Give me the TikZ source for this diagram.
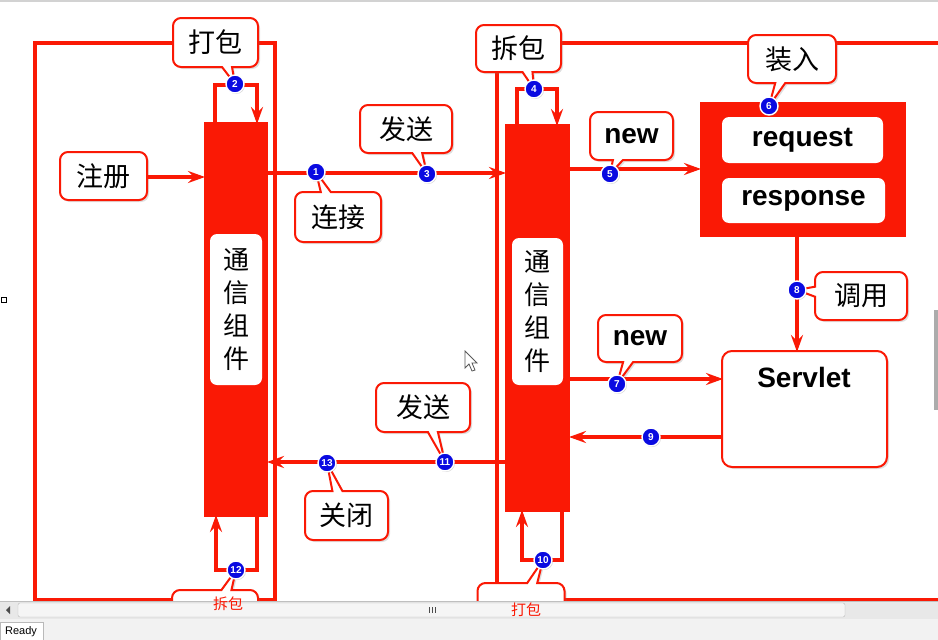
\documentclass[tikz,border=0pt]{standalone}
\usepackage{fontspec}
\setmainfont{Liberation Sans}
\newfontfamily\cjk{Noto Sans CJK SC}
\usetikzlibrary{shapes.callouts,arrows.meta,shadows}
\definecolor{myred}{RGB}{250,25,5}
\definecolor{myblue}{RGB}{10,10,225}
\tikzset{
  rline/.style={draw=myred,line width=3.2pt},
  rarr/.style={rline,-{Stealth[length=17pt,width=12pt,inset=6pt]}},
  softshadow/.style={drop shadow={opacity=0.25,shadow xshift=2pt,shadow yshift=-2pt}},
  plainbox/.style={rectangle,draw=myred,line width=2pt,fill=white,rounded corners=8pt,
     softshadow,font=\cjk\fontsize{27}{27}\selectfont,inner sep=0pt},
  callbox/.style={rectangle callout,draw=myred,line width=2pt,fill=white,rounded corners=8pt,
     softshadow,font=\cjk\fontsize{27}{27}\selectfont,inner sep=0pt,callout pointer width=10pt},
  latinbox/.style={callbox,font=\bfseries\fontsize{28}{28}\selectfont},
  num/.style={circle,fill=myblue,draw=white,line width=1.4pt,inner sep=0pt,minimum size=18pt,
     text=white,font=\bfseries\fontsize{10}{10}\selectfont,drop shadow={opacity=0.3,shadow xshift=1pt,shadow yshift=-1pt}},
  bar/.style={rectangle,fill=myred,inner sep=0pt},
  vlabel/.style={rectangle,fill=white,rounded corners=7pt,inner sep=0pt,align=center,
     font=\cjk\fontsize{26}{33}\selectfont},
  wbox/.style={rectangle,fill=white,rounded corners=7pt,inner sep=0pt,font=\bfseries\fontsize{28}{28}\selectfont},
  redann/.style={text=myred,font=\cjk\fontsize{15}{15}\selectfont,inner sep=0pt},
}
\begin{document}
\begin{tikzpicture}[x=1pt,y=-1pt]
\useasboundingbox (0,0) rectangle (938,640);
\fill[white] (0,0) rectangle (938,640);
\draw[gray!35,line width=1.5pt] (0,1) -- (938,1);

% coordinates of the numbered markers
\coordinate (c1) at (316,172);
\coordinate (c2) at (235,84);
\coordinate (c3) at (427,174);
\coordinate (c4) at (534,89);
\coordinate (c5) at (610,174);
\coordinate (c6) at (769,106);
\coordinate (c7) at (617,384);
\coordinate (c8) at (797,290);
\coordinate (c9) at (651,437);
\coordinate (c10) at (543,560);
\coordinate (c11) at (445,462);
\coordinate (c12) at (236,570);
\coordinate (c13) at (327,463);

% frames
\draw[rline] (35,43) rectangle (275,600);
\draw[rline] (940,43) -- (497,43) -- (497,600) -- (940,600);

% bars
\node[bar,minimum width=64pt,minimum height=395pt] (lbar) at (236,319.5) {};
\node[bar,minimum width=65pt,minimum height=388pt] (rbar) at (537.5,318) {};
\node[vlabel,minimum width=52pt,minimum height=151pt] (llab) at (236,309.5) {通\\信\\组\\件};
\node[vlabel,minimum width=51pt,minimum height=147pt] (rlab) at (537.5,311.5) {通\\信\\组\\件};

% request / response
\node[bar,minimum width=206pt,minimum height=135pt] (rr) at (803,169.5) {};
\node[wbox,minimum width=161pt,minimum height=46pt] (req) at (802.5,140) {request};
\node[wbox,minimum width=163pt,minimum height=45pt] (resp) at (803.5,200.5) {response};

% servlet
\node[rectangle,draw=myred,line width=2pt,fill=white,rounded corners=10pt,softshadow,
      minimum width=165pt,minimum height=116pt] (srv) at (804.5,409) {};
\node[font=\bfseries\fontsize{28}{28}\selectfont,inner sep=0pt] (srvt) at (804,377) {Servlet};

% loops
\draw[rarr] (215,122) -- (215,85) -- (257,85) -- (257,124);
\draw[rarr] (517,124) -- (517,89) -- (557,89) -- (557,126);
\draw[rarr] (257,517) -- (257,570) -- (216,570) -- (216,515);
\draw[rarr] (562,512) -- (562,560) -- (522,560) -- (522,510);

% register
\node[plainbox,minimum width=87pt,minimum height=48pt] (reg) at (103.5,176) {注册};
\draw[rarr] (reg.east |- 0,177) -- (205,177);

% connectors
\draw[rarr] (268,173) -- (506,173);
\draw[rarr] (570,169) -- (701,169);
\draw[rarr] (rr.south -| 797,0) -- (797,352);
\draw[rarr] (570,379) -- (723,379);
\draw[rarr] (722,437) -- (569,437);
\draw[rarr] (505,462) -- (267,462);

% callouts
\node[callbox,minimum width=85pt,minimum height=49pt,callout absolute pointer={(c2)}] (k2) at (215.5,42.5) {打包};
\node[callbox,minimum width=86pt,minimum height=50pt,callout absolute pointer={(c1)}] (k1) at (338,217) {连接};
\node[callbox,minimum width=92pt,minimum height=48pt,callout absolute pointer={(c3)}] (k3) at (406,129) {发送};
\node[callbox,minimum width=85pt,minimum height=47pt,callout absolute pointer={(c4)}] (k4) at (518.5,48.5) {拆包};
\node[latinbox,minimum width=83pt,minimum height=48pt,callout absolute pointer={(c5)}] (k5) at (631.5,136) {new};
\node[callbox,minimum width=88pt,minimum height=48pt,callout absolute pointer={(c6)}] (k6) at (792,59) {装入};
\node[callbox,minimum width=92pt,minimum height=48pt,callout absolute pointer={(c8)}] (k8) at (861,296) {调用};
\node[latinbox,minimum width=84pt,minimum height=47pt,callout absolute pointer={(c7)}] (k7) at (640,338.5) {new};
\node[callbox,minimum width=94pt,minimum height=49pt,callout absolute pointer={(c11)}] (k11) at (423,407.5) {发送};
\node[callbox,minimum width=83pt,minimum height=49pt,callout absolute pointer={(c13)}] (k13) at (346.5,515.5) {关闭};
\node[callbox,minimum width=86pt,minimum height=48pt,callout absolute pointer={(c12)}] (k12) at (215,614) {};
\node[callbox,minimum width=87pt,minimum height=48pt,callout absolute pointer={(c10)}] (k10) at (521,607) {};

% numbered markers
\foreach \i in {1,...,13} { \node[num] (n\i) at (c\i) {\i}; }

% mouse cursor
\filldraw[fill=white,draw=gray!70!black,line width=0.8pt]
  (465,351) -- (465,368) -- (469,364) -- (472,371) -- (475,370) -- (472,363) -- (477,363) -- cycle;

% window chrome
\draw[black,line width=0.8pt] (1,297) rectangle (6,302);
\fill[gray!65] (934,310) rectangle (938,410);
\fill[gray!18] (0,601) rectangle (938,619);
\draw[gray!50] (0,601) -- (938,601);
\fill[gray!60!black] (6,610) -- (10,606) -- (10,614) -- cycle;
\draw[gray!55,fill=gray!8,rounded corners=2pt] (18,603) rectangle (845,617);
\foreach \g in {429,432,435} \draw[gray!60!black,line width=0.7pt] (\g,607) -- (\g,613);
\fill[gray!10] (0,619) rectangle (938,640);
\draw[gray!55,fill=white] (0,622) rectangle (43,641);
\node[font=\fontsize{11}{11}\selectfont,inner sep=0pt] (ready) at (21,632) {Ready};
\node[redann] (a12) at (228,604) {拆包};
\node[redann] (a10) at (526,610) {打包};
\end{tikzpicture}
\end{document}
